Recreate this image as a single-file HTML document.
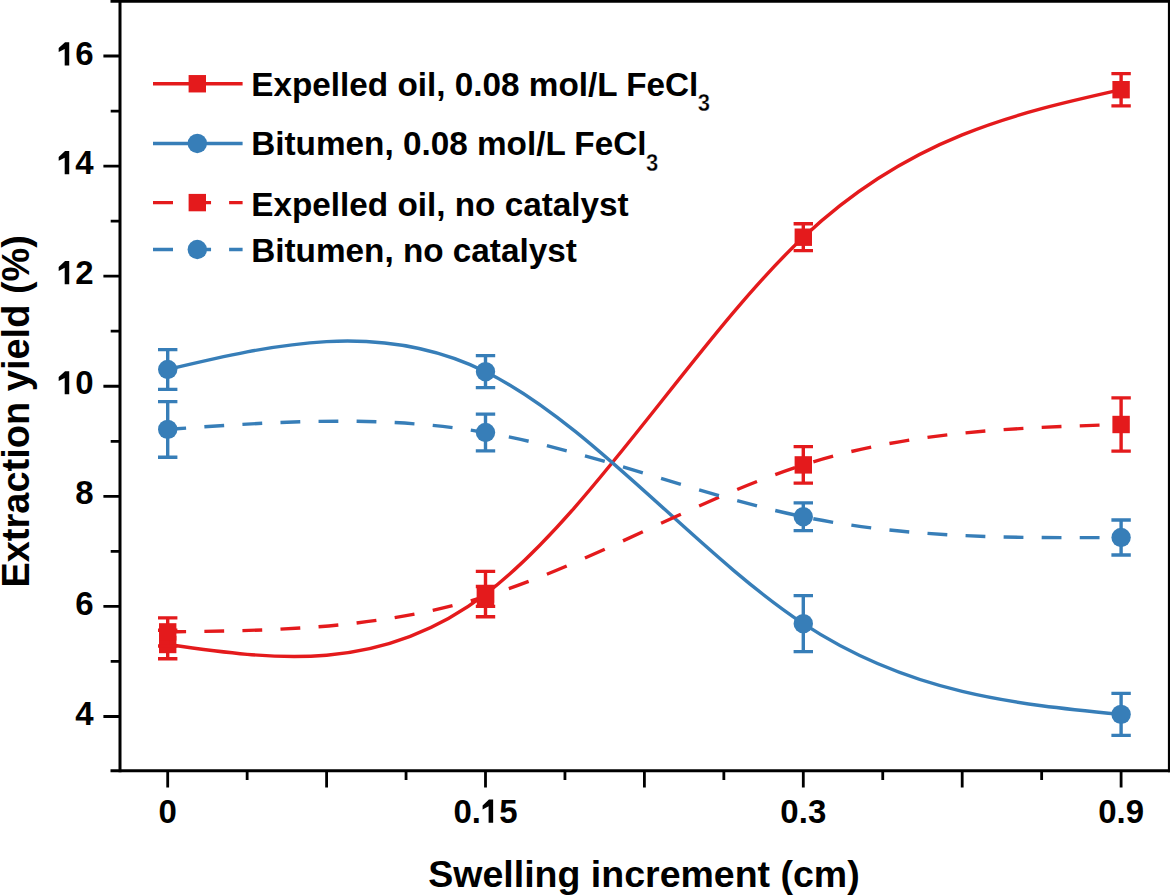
<!DOCTYPE html>
<html><head><meta charset="utf-8"><style>
html,body{margin:0;padding:0;background:#fff;}
svg{display:block;}
text{font-family:"Liberation Sans",sans-serif;font-weight:bold;fill:#000;}
</style></head><body>
<svg width="1170" height="895" viewBox="0 0 1170 895">
<rect width="1170" height="895" fill="#fff"/>
<path d="M167.70,644.50 C273.63,659.60 379.57,674.70 485.50,594.10 C591.43,513.50 697.37,337.22 803.30,237.20 C909.23,137.18 1015.17,113.44 1121.10,89.70" fill="none" stroke="#E41A1C" stroke-width="3.4"/>
<path d="M167.70,630.25V658.75M485.50,571.45V616.75M803.30,223.75V250.65M1121.10,73.60V105.80" fill="none" stroke="#E41A1C" stroke-width="3.4"/>
<path d="M158.00,630.25H177.40M158.00,658.75H177.40M475.80,571.45H495.20M475.80,616.75H495.20M793.60,223.75H813.00M793.60,250.65H813.00M1111.40,73.60H1130.80M1111.40,105.80H1130.80" fill="none" stroke="#E41A1C" stroke-width="3.3"/>
<rect x="159.00" y="635.80" width="17.4" height="17.4" fill="#E41A1C"/>
<rect x="476.80" y="585.40" width="17.4" height="17.4" fill="#E41A1C"/>
<rect x="794.60" y="228.50" width="17.4" height="17.4" fill="#E41A1C"/>
<rect x="1112.40" y="81.00" width="17.4" height="17.4" fill="#E41A1C"/>
<path d="M167.70,369.50 C273.63,344.45 379.57,319.40 485.50,371.70 C591.43,424.00 697.37,553.64 803.30,623.65 C909.23,693.66 1015.17,704.03 1121.10,714.40" fill="none" stroke="#377EB8" stroke-width="3.4"/>
<path d="M167.70,349.60V389.40M485.50,355.70V387.70M803.30,595.65V651.65M1121.10,693.40V735.40" fill="none" stroke="#377EB8" stroke-width="3.4"/>
<path d="M158.00,349.60H177.40M158.00,389.40H177.40M475.80,355.70H495.20M475.80,387.70H495.20M793.60,595.65H813.00M793.60,651.65H813.00M1111.40,693.40H1130.80M1111.40,735.40H1130.80" fill="none" stroke="#377EB8" stroke-width="3.3"/>
<circle cx="167.70" cy="369.50" r="9.7" fill="#377EB8"/>
<circle cx="485.50" cy="371.70" r="9.7" fill="#377EB8"/>
<circle cx="803.30" cy="623.65" r="9.7" fill="#377EB8"/>
<circle cx="1121.10" cy="714.40" r="9.7" fill="#377EB8"/>
<path d="M167.70,631.90 C173.83,631.83 179.97,631.75 186.10,631.67M204.36,631.41 C210.96,631.30 217.56,631.18 224.16,631.04M242.42,630.59 C249.02,630.40 255.62,630.18 262.22,629.93M280.48,629.13 C287.08,628.80 293.68,628.43 300.28,628.00M318.54,626.70 C325.14,626.17 331.74,625.59 338.34,624.94M356.60,622.97 C363.20,622.20 369.80,621.35 376.40,620.42M394.66,617.63 C401.26,616.54 407.86,615.37 414.46,614.10M432.72,610.34 C439.32,608.89 445.92,607.33 452.52,605.67M470.78,600.78 C475.69,599.38 480.59,597.93 485.50,596.40 C487.19,595.87 488.89,595.34 490.58,594.80M508.84,588.65 C515.44,586.33 522.04,583.90 528.64,581.39M546.90,574.21 C553.50,571.54 560.10,568.79 566.70,565.98M584.96,558.07 C591.56,555.16 598.16,552.21 604.76,549.22M623.02,540.89 C629.62,537.85 636.22,534.80 642.82,531.75M661.08,523.30 C667.68,520.25 674.28,517.22 680.88,514.21M699.14,505.96 C705.74,503.01 712.34,500.10 718.94,497.24M737.20,489.49 C743.80,486.75 750.40,484.08 757.00,481.49M775.26,474.55 C781.86,472.13 788.46,469.81 795.06,467.60M813.32,461.78 C819.92,459.79 826.52,457.91 833.12,456.13M851.38,451.50 C857.98,449.92 864.58,448.45 871.18,447.06M889.44,443.46 C896.04,442.25 902.64,441.12 909.24,440.06M927.50,437.35 C934.10,436.44 940.70,435.60 947.30,434.83M965.56,432.85 C972.16,432.19 978.76,431.59 985.36,431.04M1003.62,429.64 C1010.22,429.18 1016.82,428.76 1023.42,428.37M1041.68,427.40 C1048.28,427.08 1054.88,426.79 1061.48,426.52M1079.74,425.83 C1086.34,425.60 1092.94,425.38 1099.54,425.17M1117.80,424.60 C1118.90,424.57 1120.00,424.53 1121.10,424.50" fill="none" stroke="#E41A1C" stroke-width="3.4"/>
<path d="M167.70,617.80V646.00M485.50,586.50V606.30M803.30,446.65V483.15M1121.10,397.80V451.20" fill="none" stroke="#E41A1C" stroke-width="3.4"/>
<path d="M158.00,617.80H177.40M158.00,646.00H177.40M475.80,586.50H495.20M475.80,606.30H495.20M793.60,446.65H813.00M793.60,483.15H813.00M1111.40,397.80H1130.80M1111.40,451.20H1130.80" fill="none" stroke="#E41A1C" stroke-width="3.3"/>
<rect x="159.00" y="623.20" width="17.4" height="17.4" fill="#E41A1C"/>
<rect x="476.80" y="587.70" width="17.4" height="17.4" fill="#E41A1C"/>
<rect x="794.60" y="456.20" width="17.4" height="17.4" fill="#E41A1C"/>
<rect x="1112.40" y="415.80" width="17.4" height="17.4" fill="#E41A1C"/>
<path d="M167.70,429.40 C173.83,428.96 179.97,428.52 186.10,428.09M204.36,426.81 C210.96,426.36 217.56,425.92 224.16,425.50M242.42,424.38 C249.02,424.00 255.62,423.64 262.22,423.31M280.48,422.47 C287.08,422.20 293.68,421.97 300.28,421.78M318.54,421.36 C325.14,421.25 331.74,421.19 338.34,421.18M356.60,421.30 C363.20,421.39 369.80,421.55 376.40,421.77M394.66,422.56 C401.26,422.91 407.86,423.33 414.46,423.83M432.72,425.41 C439.32,426.06 445.92,426.79 452.52,427.62M470.78,430.12 C475.69,430.86 480.59,431.65 485.50,432.50 C487.19,432.79 488.89,433.09 490.58,433.40M508.84,436.93 C515.44,438.29 522.04,439.73 528.64,441.25M546.90,445.65 C553.50,447.30 560.10,449.01 566.70,450.78M584.96,455.79 C591.56,457.64 598.16,459.54 604.76,461.46M623.02,466.86 C629.62,468.83 636.22,470.82 642.82,472.82M661.08,478.36 C667.68,480.37 674.28,482.37 680.88,484.35M699.14,489.80 C705.74,491.75 712.34,493.67 718.94,495.56M737.20,500.67 C743.80,502.48 750.40,504.24 757.00,505.94M775.26,510.49 C781.86,512.07 788.46,513.58 795.06,515.01M813.32,518.75 C819.92,520.02 826.52,521.21 833.12,522.32M851.38,525.19 C857.98,526.16 864.58,527.06 871.18,527.89M889.44,530.01 C896.04,530.71 902.64,531.36 909.24,531.94M927.50,533.42 C934.10,533.90 940.70,534.33 947.30,534.72M965.56,535.66 C972.16,535.96 978.76,536.22 985.36,536.44M1003.62,536.96 C1010.22,537.12 1016.82,537.24 1023.42,537.34M1041.68,537.55 C1048.28,537.60 1054.88,537.64 1061.48,537.65M1079.74,537.66 C1086.34,537.65 1092.94,537.63 1099.54,537.60M1117.80,537.52 C1118.90,537.51 1120.00,537.51 1121.10,537.50" fill="none" stroke="#377EB8" stroke-width="3.4"/>
<path d="M167.70,401.55V457.25M485.50,414.15V450.85M803.30,502.85V530.65M1121.10,520.00V555.00" fill="none" stroke="#377EB8" stroke-width="3.4"/>
<path d="M158.00,401.55H177.40M158.00,457.25H177.40M475.80,414.15H495.20M475.80,450.85H495.20M793.60,502.85H813.00M793.60,530.65H813.00M1111.40,520.00H1130.80M1111.40,555.00H1130.80" fill="none" stroke="#377EB8" stroke-width="3.3"/>
<circle cx="167.70" cy="429.40" r="9.7" fill="#377EB8"/>
<circle cx="485.50" cy="432.50" r="9.7" fill="#377EB8"/>
<circle cx="803.30" cy="516.75" r="9.7" fill="#377EB8"/>
<circle cx="1121.10" cy="537.50" r="9.7" fill="#377EB8"/>
<g stroke="#000" stroke-width="3" fill="none">
<path d="M110.5,1.2H1172"/>
<path d="M110.5,770.8H1172"/>
<path d="M120,0V772.3"/>
<path d="M1169.4,0V772.3"/>
<path d="M103.4,716.50H120M110.7,661.46H120M103.4,606.42H120M110.7,551.38H120M103.4,496.34H120M110.7,441.30H120M103.4,386.26H120M110.7,331.22H120M103.4,276.18H120M110.7,221.14H120M103.4,166.10H120M110.7,111.06H120M103.4,56.02H120M167.70,770V787.4M247.15,770V780M326.60,770V787.4M406.05,770V780M485.50,770V787.4M564.95,770V780M644.40,770V787.4M723.85,770V780M803.30,770V787.4M882.75,770V780M962.20,770V787.4M1041.65,770V780M1121.10,770V787.4" stroke-width="2.8"/>
</g>
<text transform="translate(75.35,724.60) scale(1,1.0200)" font-size="33">4</text>
<text transform="translate(75.35,614.52) scale(1,1.0200)" font-size="33">6</text>
<text transform="translate(75.35,504.44) scale(1,1.0200)" font-size="33">8</text>
<text transform="translate(56.99,394.36) scale(1,1.0200)" font-size="33"> 0</text><polygon points="64.70,394.36 69.22,394.36 69.22,371.16 65.05,371.16 58.69,377.04 58.69,380.99 64.70,377.92" fill="#000"/>
<text transform="translate(56.99,284.28) scale(1,1.0200)" font-size="33"> 2</text><polygon points="64.70,284.28 69.22,284.28 69.22,261.08 65.05,261.08 58.69,266.96 58.69,270.91 64.70,267.84" fill="#000"/>
<text transform="translate(56.99,174.20) scale(1,1.0200)" font-size="33"> 4</text><polygon points="64.70,174.20 69.22,174.20 69.22,151.00 65.05,151.00 58.69,156.88 58.69,160.83 64.70,157.76" fill="#000"/>
<text transform="translate(56.99,65.42) scale(1,1.0200)" font-size="33"> 6</text><polygon points="64.70,65.42 69.22,65.42 69.22,42.22 65.05,42.22 58.69,48.10 58.69,52.05 64.70,48.98" fill="#000"/>
<text transform="translate(158.52,822.80) scale(1,1.0200)" font-size="33">0</text>
<text transform="translate(453.39,822.80) scale(1,1.0200)" font-size="33">0. 5</text><polygon points="488.61,822.80 493.14,822.80 493.14,799.60 488.96,799.60 482.60,805.48 482.60,809.43 488.61,806.36" fill="#000"/>
<text transform="translate(780.36,822.80) scale(1,1.0200)" font-size="33">0.3</text>
<text transform="translate(1098.16,822.80) scale(1,1.0200)" font-size="33">0.9</text>
<text x="644" y="887" font-size="37.5" text-anchor="middle">Swelling increment (cm)</text>
<text transform="translate(28.5,411.3) rotate(-90)" x="0" y="0" font-size="38" text-anchor="middle">Extraction yield (%)</text>
<path d="M153,83.75H242.6" stroke="#E41A1C" stroke-width="3.4"/>
<rect x="188.60" y="75.05" width="17.4" height="17.4" fill="#E41A1C"/>
<text x="251.2" y="95.7" font-size="33.3">Expelled oil, 0.08 mol/L FeCl</text><text transform="translate(697.7,111.1) scale(0.94,1.02)" font-size="23.5" stroke="#fff" stroke-width="0.35">3</text>
<path d="M153,143.45H242.6" stroke="#377EB8" stroke-width="3.4"/>
<circle cx="197.30" cy="143.45" r="9.7" fill="#377EB8"/>
<text x="251.2" y="155.4" font-size="33.3">Bitumen, 0.08 mol/L FeCl</text><text transform="translate(646.0,170.5) scale(0.94,1.02)" font-size="23.5" stroke="#fff" stroke-width="0.35">3</text>
<path d="M153,202.6H173.00M191.05,202.6H211.05M229.1,202.6H242.60" stroke="#E41A1C" stroke-width="3.4"/>
<rect x="188.60" y="193.90" width="17.4" height="17.4" fill="#E41A1C"/>
<text x="251.2" y="215.8" font-size="33.3">Expelled oil, no catalyst</text>
<path d="M153,249.5H173.00M191.05,249.5H211.05M229.1,249.5H242.60" stroke="#377EB8" stroke-width="3.4"/>
<circle cx="197.30" cy="249.50" r="9.7" fill="#377EB8"/>
<text x="251.2" y="262.4" font-size="33.3">Bitumen, no catalyst</text>
</svg></body></html>
